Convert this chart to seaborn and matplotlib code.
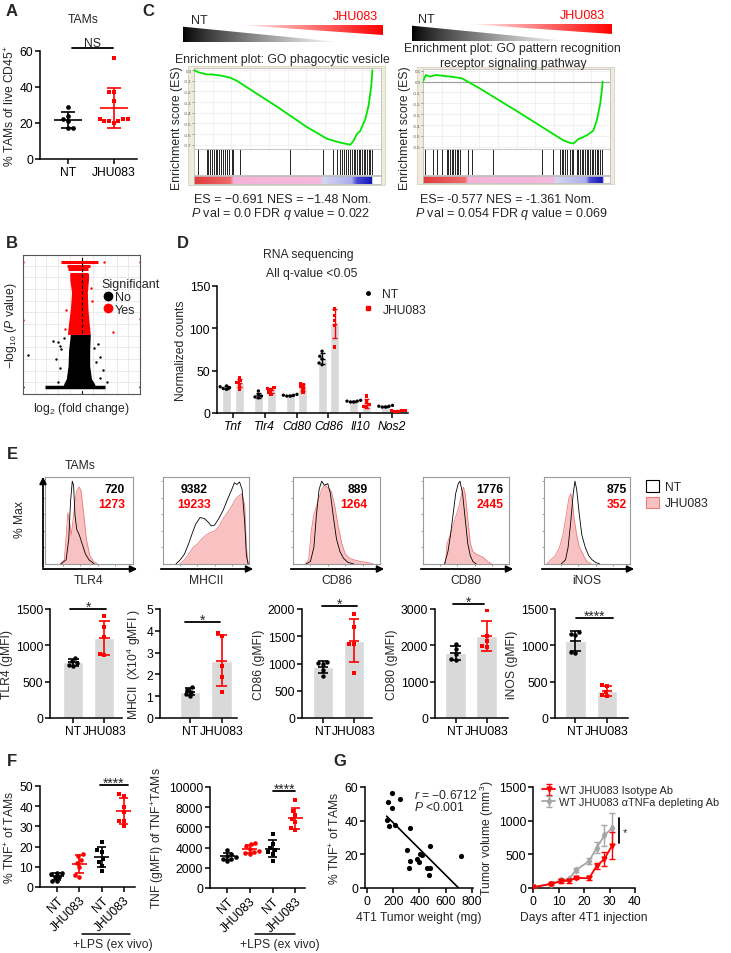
import warnings
import numpy as np
import pandas as pd
import seaborn as sns
import matplotlib.pyplot as plt
from matplotlib.colors import LinearSegmentedColormap
from matplotlib.patches import Polygon, Rectangle, Patch, FancyArrowPatch
from matplotlib.lines import Line2D

warnings.filterwarnings('ignore')

# ---------------- data ----------------
groups = ['NT', 'JHU083']

# A: % TAMs of live CD45+
tam_nt = [29, 24, 22, 21, 17.5, 17.5]
tam_jhu = [56, 37, 37, 32, 22, 21, 22, 21, 20, 21, 22]

# B: volcano plot, cloud outlines
red_y = [5.1, 6.1, 7.3, 8.7, 9.8, 10.3]
red_lo = [-1.2, -1.1, -0.95, -0.85, -1.0, -1.0]
red_hi = [0.75, 0.65, 0.55, 0.5, 0.6, 0.6]
red_row_y = [10.3, 10.7, 11.0, 11.3]
red_row_lo = [-1.0, -1.14, -1.28, -1.71]
red_row_hi = [0.57, 0.57, 0.71, 1.42]
blk_y = [0.6, 0.9, 1.3, 2.4, 3.8, 5.1]
blk_lo = [-1.6, -1.5, -1.3, -1.15, -1.1, -0.95]
blk_hi = [1.2, 1.1, 0.85, 0.7, 0.7, 0.75]
blk_row_y = [0.6]
blk_row_lo = [-3.1]
blk_row_hi = [2.0]
red_out_x = [-5, 5, -5, 5, 2.7, 1.9, -1.3, 0.9, -1.4, 0.8]
red_out_y = [11.3, 11.3, 6.3, 6.4, 5.3, 11.3, 7.2, 8.0, 5.6, 9.1]
blk_out_x = [-2.42, -1.99, -1.85, -1.71, -4.56, 1.85, 1.28, 1.57, -2.2, -1.8,
             1.6, 2.2, -2.0, 1.4, -1.5, 1.1, -5, 5]
blk_out_y = [4.56, 4.41, 4.13, 3.85, 3.33, 2.05, 2.76, 1.35, 3.0, 2.2,
             3.2, 1.0, 1.0, 4.3, 4.8, 3.9, 0.6, 0.6]

# C: GSEA running enrichment scores and hit positions (% of ranked list)
es1_x = [0, 2.3, 6.8, 9.5, 13.9, 19.3, 22.9, 45, 60, 71.1, 78.2, 83.6, 85.4, 87.1, 88.9, 91.6, 93.4, 94.8, 95.4]
es1_y = [0, -0.02, -0.04, -0.04, -0.05, -0.07, -0.1, -0.35, -0.53, -0.644, -0.68, -0.70, -0.66, -0.60, -0.57, -0.46, -0.33, -0.15, 0.0]
hits1 = [2.3, 6.8, 7.7, 8.6, 9.5, 10.7, 11.8, 12.5, 13.6, 14.5, 15.4, 16.6, 17.9, 18.9, 20.2, 21.1, 24.6,
         51.4, 68.9, 74.3, 76.4, 78.2, 79.1, 80.4, 81.4, 82.1, 83.6, 84.5, 85.4, 86.3, 87.1, 88.0, 88.9,
         89.8, 90.7, 91.6, 92.5, 93.4, 94.3, 95.2]
es2_x = [0, 1.5, 3.7, 7, 11.8, 15, 20.7, 30, 50, 75, 78, 80.4, 83, 85.7, 88, 91.1, 92.9, 94.7, 95.5, 96.1]
es2_y = [0, 0.06, 0.045, 0.06, 0.05, 0.045, 0.03, -0.06, -0.27, -0.54, -0.56, -0.57, -0.53, -0.51, -0.49, -0.45, -0.36, -0.21, -0.1, 0.0]
hits2 = [1.1, 5.5, 7.3, 10.0, 12.7, 13.5, 14.4, 15.3, 16.2, 17.1, 18.0, 18.9, 19.8, 24.2, 26.0, 37.6,
         63.5, 69.7, 73.3, 74.2, 75.0, 75.9, 76.8, 78.6, 79.5, 80.4, 82.2, 83.1, 84.0, 84.8, 85.7, 86.6,
         87.5, 88.4, 89.3, 90.2, 91.1, 92.0, 92.9, 93.8, 94.7, 95.5]

# D: RNA sequencing normalized counts
genes = ['Tnf', 'Tlr4', 'Cd80', 'Cd86', 'Il10', 'Nos2']
rna_nt = [[30, 31, 29, 28, 32], [26, 22, 20, 19, 18], [22, 21, 21, 20, 20],
          [73, 67, 64, 59, 57], [15, 14, 14, 13, 13], [9, 8, 8, 7, 7]]
rna_jhu = [[42, 38, 36, 33, 28], [30, 29, 28, 25, 22], [35, 33, 31, 28, 24],
           [123, 115, 109, 103, 78], [20, 14, 10, 8, 7], [3, 3, 2, 2, 3]]

# E: flow histograms (x on 0-100 display scale, height as fraction of max)
hist_names = ['TLR4', 'MHCII', 'CD86', 'CD80', 'iNOS']
hist_nt_x = [
    [18, 24, 27, 29, 31, 32.5, 34, 36, 39, 42, 46, 50, 56],
    [15, 20, 25, 30, 34, 38, 43, 48, 53, 56, 60, 65, 70, 75, 80, 83, 86, 89, 92, 95, 97, 99],
    [15, 20, 24, 27, 30, 33, 36, 40, 43, 46, 50, 54, 58, 63, 70],
    [25, 29, 32, 35, 38, 41, 43, 46, 49, 52, 55, 58, 62],
    [20, 25, 28, 31, 34, 36, 38, 41, 44, 48, 52, 56, 60, 65],
]
hist_nt_y = [
    [0, 0.05, 0.3, 0.75, 1.0, 0.95, 0.6, 0.42, 0.35, 0.25, 0.12, 0.05, 0],
    [0, 0.05, 0.12, 0.25, 0.37, 0.48, 0.56, 0.55, 0.5, 0.46, 0.47, 0.55, 0.65, 0.78, 0.9, 0.98, 0.96, 0.99, 0.9, 0.5, 0.1, 0],
    [0, 0.03, 0.2, 0.6, 0.9, 1.0, 0.95, 0.97, 0.85, 0.6, 0.3, 0.15, 0.07, 0.02, 0],
    [0, 0.15, 0.35, 0.6, 0.85, 0.97, 1.0, 0.85, 0.55, 0.25, 0.1, 0.03, 0],
    [0, 0.05, 0.2, 0.5, 0.85, 1.0, 0.9, 0.6, 0.35, 0.2, 0.1, 0.05, 0.02, 0],
]
hist_jhu_x = [
    [17, 22, 24.5, 26, 28, 30, 32, 34, 36, 39, 41, 44, 47, 51, 55, 60],
    [20, 25, 30, 35, 40, 45, 50, 55, 60, 65, 70, 75, 80, 84, 88, 92, 95, 97, 99],
    [14, 18, 21, 24, 27, 30, 33, 36, 40, 44, 48, 52, 56, 60, 65, 70, 78, 85, 92],
    [26, 28, 30, 33, 36, 39, 42, 45, 47, 49, 52, 55, 58, 62, 66, 70, 75, 80],
    [3, 8, 13, 18, 22, 26, 29, 31, 33, 35, 38, 41, 44, 47, 50, 55],
]
hist_jhu_y = [
    [0, 0.05, 0.4, 0.62, 0.5, 0.35, 0.55, 0.75, 0.88, 0.93, 0.88, 0.6, 0.3, 0.1, 0.03, 0],
    [0, 0.05, 0.12, 0.2, 0.24, 0.3, 0.35, 0.38, 0.4, 0.45, 0.55, 0.62, 0.7, 0.78, 0.82, 0.85, 0.7, 0.2, 0],
    [0, 0.05, 0.4, 0.6, 0.7, 0.8, 0.9, 0.95, 0.92, 0.88, 0.7, 0.45, 0.25, 0.12, 0.07, 0.05, 0.03, 0.02, 0],
    [0, 0.25, 0.3, 0.4, 0.5, 0.6, 0.7, 0.85, 0.93, 0.85, 0.55, 0.25, 0.15, 0.12, 0.1, 0.08, 0.03, 0],
    [0, 0.05, 0.1, 0.2, 0.35, 0.6, 0.8, 0.85, 0.75, 0.55, 0.35, 0.2, 0.15, 0.08, 0.03, 0],
]
mfi_nt = ['720', '9382', '889', '1776', '875']
mfi_jhu = ['1273', '19233', '1264', '2445', '352']

# E: gMFI bar charts
e_nt = [[830, 780, 760, 730, 720], [1.4, 1.3, 1.2, 1.1, 1.0], [1030, 1010, 1000, 880, 770],
        [2040, 1900, 1770, 1620, 1600], [1180, 1160, 1140, 910, 900]]
e_jhu = [[1400, 1250, 1110, 880, 870], [3.9, 3.75, 2.4, 1.9, 1.2], [1900, 1670, 1360, 1350, 830],
         [2970, 2260, 2120, 1980, 1950], [450, 440, 360, 310, 300]]
e_ymax = [1500, 5, 2000, 3000, 1500]
e_ystep = [500, 1, 500, 1000, 500]
e_ylabels = ['TLR4 (gMFI)', 'MHCII  (X10$^{4}$ gMFI )', 'CD86 (gMFI)', 'CD80 (gMFI)', 'iNOS (gMFI)']
e_sig = ['*', '*', '*', '*', '****']

# F: TNF in TAMs
f_cats = ['NT', 'JHU083', 'NT+LPS', 'JHU083+LPS']
f_ticklabels = ['NT', 'JHU083', 'NT', 'JHU083']
f_pct = [[7, 7, 6.5, 5, 5, 3, 3], [16.5, 15.5, 13.5, 12, 10, 6, 5],
         [22.4, 18.5, 17.5, 13.9, 12.5, 10.5, 7.8], [46, 45.2, 39.4, 37, 32.8, 32.8, 30.3]]
f_mfi = [[3800, 3400, 3200, 3050, 2900, 2850, 2700], [4450, 4350, 4200, 3900, 3700, 3600, 3500, 3400],
         [5300, 4400, 4000, 3800, 3600, 3400, 2700], [8700, 7600, 7200, 6800, 6500, 5900, 5700]]

# G: correlation and tumour growth
g_weight = [188, 157, 251, 188, 150, 170, 213, 327, 302, 484, 327, 403, 416, 383, 393, 322, 454, 479, 474, 720]
g_tnf = [56.3, 51.3, 52.9, 47.4, 40.6, 37.0, 37.4, 35.6, 22.8, 24.8, 16.2, 20.2, 19.6, 17.2, 15.6,
         11.9, 11.9, 11.7, 7.9, 19.2]
days = [0, 7, 11, 14, 17, 22, 25, 28, 31]
vol_iso = [10, 60, 100, 110, 150, 145, 330, 430, 630]
vol_iso_sd = [5, 15, 30, 30, 20, 30, 45, 110, 200]
vol_tnf = [10, 65, 115, 130, 270, 400, 600, 780, 890]
vol_tnf_sd = [5, 10, 20, 20, 30, 50, 80, 150, 230]

# ---------------- style ----------------
sns.set_theme(style='ticks')
plt.rcParams['font.family'] = ['Liberation Sans', 'DejaVu Sans']
plt.rcParams['mathtext.fontset'] = 'custom'
plt.rcParams['mathtext.rm'] = 'Liberation Sans'
plt.rcParams['mathtext.it'] = 'Liberation Sans:italic'
plt.rcParams['mathtext.bf'] = 'Liberation Sans:bold'
plt.rcParams['mathtext.sf'] = 'Liberation Sans'

W, H = 731, 954
RED = '#ff0000'
GREY = '#d9d9d9'
PINK = '#f9c2c2'
FS = 8.7

fig = plt.figure(figsize=(W / 100, H / 100), dpi=100)


def px_ax(l, t, r, b):
    return fig.add_axes([l / W, 1 - b / H, (r - l) / W, (b - t) / H])


def ftext(x, y, s, **kw):
    kw.setdefault('va', 'center')
    kw.setdefault('fontsize', FS)
    fig.text(x / W, 1 - y / H, s, **kw)


def arrow(x0, y0, x1, y1):
    fig.add_artist(FancyArrowPatch((x0 / W, 1 - y0 / H), (x1 / W, 1 - y1 / H),
                                   transform=fig.transFigure, arrowstyle='-|>',
                                   mutation_scale=10, lw=1.3, color='black'))


def prism(ax):
    sns.despine(ax=ax)
    for s in ('left', 'bottom'):
        ax.spines[s].set_linewidth(1.1)
        ax.spines[s].set_color('black')
    ax.tick_params(axis='both', length=3.5, width=1.1, labelsize=FS, pad=1.5, colors='black')
    ax.set_xlabel('')
    ax.set_facecolor('none')


def mean_sd(ax, pos, vals, color, half_mean, half_cap, lw=1.2):
    m = np.mean(vals)
    s = np.std(vals, ddof=1)
    ax.hlines(m, pos - half_mean, pos + half_mean, color=color, lw=lw, zorder=5)
    ax.vlines(pos, m - s, m + s, color=color, lw=lw, zorder=5)
    ax.hlines([m - s, m + s], pos - half_cap, pos + half_cap, color=color, lw=lw, zorder=5)


def sig(ax, x0, x1, y, text, fs=10, dy=-1):
    ax.plot([x0, x1], [y, y], color='black', lw=1.3, clip_on=False)
    ax.annotate(text, xy=((x0 + x1) / 2, y), xytext=(0, dy), textcoords='offset points',
                ha='center', va='baseline', fontsize=fs, annotation_clip=False)


# panel letters
for letter, x, y in [('A', 12, 12), ('B', 12, 243), ('C', 148, 11), ('D', 183, 243),
                     ('E', 12, 455), ('F', 12, 762), ('G', 340, 762)]:
    ftext(x, y, letter, fontsize=12, fontweight='bold', ha='center')

# ---------------- A ----------------
ax = px_ax(40, 52, 137, 160)
df_a = pd.DataFrame({'group': ['NT'] * len(tam_nt) + ['JHU083'] * len(tam_jhu),
                     'value': tam_nt + tam_jhu})
sns.swarmplot(data=df_a[df_a.group == 'NT'], x='group', y='value', order=groups,
              color='black', size=3.4, ax=ax)
sns.swarmplot(data=df_a[df_a.group == 'JHU083'], x='group', y='value', order=groups,
              color=RED, marker='s', size=3.4, ax=ax)
mean_sd(ax, 0, tam_nt, 'black', 0.3, 0.15)
mean_sd(ax, 1, tam_jhu, RED, 0.3, 0.15)
ax.set_xlim(-0.6, 1.5)
ax.set_ylim(0, 60)
ax.set_yticks([0, 20, 40, 60])
prism(ax)
ax.set_ylabel('% TAMs of live CD45$^{+}$', fontsize=FS, labelpad=2)
sig(ax, 0.1, 0.98, 61.5, 'NS', fs=FS, dy=1.5)
ftext(83, 20, 'TAMs', ha='center')

# ---------------- B ----------------
ax = px_ax(23, 256, 140, 395)
ax.set_axisbelow(True)
ax.fill_betweenx(blk_y, blk_lo, blk_hi, color='black', lw=0)
ax.hlines(blk_row_y, blk_row_lo, blk_row_hi, color='black', lw=2.5)
ax.fill_betweenx(red_y, red_lo, red_hi, color=RED, lw=0)
ax.hlines(red_row_y, red_row_lo, red_row_hi, color=RED, lw=2.2)
ax.scatter(blk_out_x, blk_out_y, s=3, color='black', lw=0, clip_on=True)
ax.scatter(red_out_x, red_out_y, s=3, color=RED, lw=0, clip_on=True)
ax.axvline(0, ls='--', color='black', lw=0.8, dashes=(3, 2))
ax.set_xlim(-5, 5)
ax.set_ylim(0, 11.9)
ax.set_xticks(np.arange(-5, 6, 1))
ax.set_yticks(np.arange(0, 12, 1))
ax.grid(True, color='#e6e6e6', lw=0.6)
ax.tick_params(length=0, labelbottom=False, labelleft=False)
for s in ax.spines.values():
    s.set_color('#555555')
    s.set_linewidth(0.8)
ax.set_ylabel('\u2212log$_{10}$ ($P$ value)', fontsize=FS, labelpad=3)
ax.set_xlabel('log$_{2}$ (fold change)', fontsize=FS, labelpad=4)
ax.legend(handles=[Line2D([], [], ls='', marker='o', color='black', markersize=6),
                   Line2D([], [], ls='', marker='o', color=RED, markersize=6)],
          labels=['No', 'Yes'], title='Significant', loc='upper left',
          bbox_to_anchor=(95 / W, 1 - 273 / H), bbox_transform=fig.transFigure,
          frameon=False, fontsize=9, title_fontsize=9, handletextpad=0.1,
          labelspacing=0.05, borderpad=0, handlelength=1.0, alignment='left')


# ---------------- C ----------------
def gradient_bar(l, t, r, b):
    gax = px_ax(l, t, r, b)
    gax.set_xlim(0, 1)
    gax.set_ylim(0, 1)
    gax.axis('off')
    g = np.linspace(0, 1, 300)
    img = np.ones((2, 300, 4))
    shade = np.clip(g / 0.78, 0, 1) ** 0.8
    img[..., 0] = shade
    img[..., 1] = shade
    img[..., 2] = shade
    im = gax.imshow(img, extent=(0, 1, 0, 1), aspect='auto', origin='lower')
    im.set_clip_path(Polygon([(0, 0), (0, 0.9), (0.78, 0)], transform=gax.transData))
    img2 = np.zeros((2, 300, 4))
    img2[..., 0] = 1
    img2[..., 3] = np.clip((g - 0.28) / 0.72, 0, 1) ** 0.9
    im2 = gax.imshow(img2, extent=(0, 1, 0, 1), aspect='auto', origin='lower')
    im2.set_clip_path(Polygon([(0.28, 1), (1, 1), (1, 0.42)], transform=gax.transData))


def gsea(l, r, top, es_bot, hits_bot, bar_bot, es_x, es_y, ylim, yticks, hits, stops, zero):
    fig.add_artist(Rectangle(((l - 6) / W, 1 - (bar_bot + 1) / H),
                             (r - l + 10) / W, (bar_bot - top + 3) / H, transform=fig.transFigure,
                             facecolor='#efecdc', edgecolor='#d6d2bd', lw=0.6, zorder=0))
    ax = px_ax(l, top, r, es_bot)
    ax.plot(es_x, es_y, color='#00e600', lw=1.3, zorder=3)
    if zero:
        ax.axhline(0, color='#a0a0a0', lw=0.9, zorder=2)
    ax.set_xlim(0, 100)
    ax.set_ylim(ylim)
    ax.set_yticks(yticks)
    ax.set_yticklabels([f'{v:.1f}' for v in yticks])
    ax.set_xticks(np.arange(0, 101, 10))
    ax.grid(True, color='#ebebeb', lw=0.5)
    ax.tick_params(labelbottom=False, length=1.2, width=0.4, labelsize=3.2, pad=0.5, colors='#555555')
    for s in ax.spines.values():
        s.set_color('#bdbdbd')
        s.set_linewidth(0.6)
    hax = px_ax(l, es_bot, r, hits_bot)
    hax.vlines(hits, 0, 1, color='black', lw=0.6)
    hax.set_xlim(0, 100)
    hax.set_ylim(0, 1)
    hax.set_xticks([])
    hax.set_yticks([])
    for s in hax.spines.values():
        s.set_color('#bdbdbd')
        s.set_linewidth(0.6)
    bax = px_ax(l, hits_bot + 1, r, bar_bot)
    cmap = LinearSegmentedColormap.from_list('gsea', stops)
    bax.imshow(np.linspace(0, 1, 500)[None, :], cmap=cmap, aspect='auto', extent=(0, 100, 0, 1))
    bax.set_xticks([])
    bax.set_yticks([])
    for s in bax.spines.values():
        s.set_color('#bdbdbd')
        s.set_linewidth(0.6)
    return ax


stops1 = [(0, '#e23b3b'), (0.19, '#f06a6a'), (0.21, '#f7b3d9'), (0.67, '#f6b8dc'), (0.69, '#d6d6f3'),
          (0.84, '#acacec'), (0.87, '#4a4ad6'), (0.95, '#1414b4'), (0.952, '#ffffff'), (1, '#ffffff')]
stops2 = [(0, '#e23b3b'), (0.22, '#f06a6a'), (0.24, '#f7b3d9'), (0.69, '#f6b8dc'), (0.71, '#d6d6f3'),
          (0.87, '#acacec'), (0.89, '#4a4ad6'), (0.96, '#1414b4'), (0.962, '#ffffff'), (1, '#ffffff')]

gradient_bar(183, 26, 383, 43)
gradient_bar(412, 25, 612, 42)
ftext(199, 21, 'NT', ha='center', fontsize=9)
ftext(378, 17, 'JHU083', ha='right', fontsize=9, color=RED)
ftext(426, 20, 'NT', ha='center', fontsize=9)
ftext(605, 16, 'JHU083', ha='right', fontsize=9, color=RED)
ftext(282, 60, 'Enrichment plot: GO phagocytic vesicle', ha='center', fontsize=8.8)
ftext(512, 49, 'Enrichment plot: GO pattern recognition', ha='center', fontsize=8.8)
ftext(513, 64, 'receptor signaling pathway', ha='center', fontsize=8.8)
gsea(194, 381, 69, 150, 176, 185, es1_x, es1_y, (-0.74, 0.02), np.round(np.arange(0, -0.71, -0.1), 1),
     hits1, stops1, False)
gsea(423, 610, 70, 150, 176, 184, es2_x, es2_y, (-0.62, 0.115), np.round(np.arange(0.1, -0.61, -0.1), 1),
     hits2, stops2, True)
ftext(177, 128, 'Enrichment score (ES)', ha='center', rotation=90, fontsize=8.8)
ftext(405, 128, 'Enrichment score (ES)', ha='center', rotation=90, fontsize=8.8)
ftext(283, 200, 'ES = \u22120.691 NES = \u22121.48 Nom.', ha='center', fontsize=9)
ftext(281, 214, '$P$ val = 0.0 FDR $q$ value = 0.022', ha='center', fontsize=9)
ftext(507, 200, 'ES= -0.577 NES = -1.361 Nom.', ha='center', fontsize=9)
ftext(512, 214, '$P$ val = 0.054 FDR $q$ value = 0.069', ha='center', fontsize=9)

# ---------------- D ----------------
ax = px_ax(217, 287, 408, 414)
df_d = pd.DataFrame([(g, grp, v) for gi, g in enumerate(genes)
                     for grp, src in (('NT', rna_nt), ('JHU083', rna_jhu)) for v in src[gi]],
                    columns=['gene', 'group', 'count'])
sns.barplot(data=df_d, x='gene', y='count', hue='group', hue_order=groups, order=genes,
            palette=[GREY, GREY], errorbar=None, width=0.8, gap=0.3, legend=False, ax=ax)
sns.swarmplot(data=df_d[df_d.group == 'NT'], x='gene', y='count', hue='group', hue_order=groups,
              order=genes, dodge=True, palette={'NT': 'black', 'JHU083': RED}, size=2.4,
              legend=False, ax=ax)
sns.swarmplot(data=df_d[df_d.group == 'JHU083'], x='gene', y='count', hue='group', hue_order=groups,
              order=genes, dodge=True, palette={'NT': 'black', 'JHU083': RED}, marker='s', size=2.4,
              legend=False, ax=ax)
for i in range(len(genes)):
    mean_sd(ax, i - 0.2, rna_nt[i], 'black', 0.08, 0.08, lw=1.0)
    mean_sd(ax, i + 0.2, rna_jhu[i], RED, 0.08, 0.08, lw=1.0)
ax.set_xlim(-0.5, 5.5)
ax.set_ylim(0, 150)
ax.set_yticks([0, 50, 100, 150])
prism(ax)
ax.set_xticks(range(len(genes)))
ax.set_xticklabels(genes, style='italic')
ax.set_ylabel('Normalized counts', fontsize=FS, labelpad=2)
ax.legend(handles=[Line2D([], [], ls='', marker='o', color='black', markersize=2.5),
                   Line2D([], [], ls='', marker='s', color=RED, markersize=2.5)],
          labels=groups, loc='upper left', bbox_to_anchor=(357 / W, 1 - 283 / H),
          bbox_transform=fig.transFigure, frameon=False, fontsize=FS, handlelength=0.8,
          handletextpad=0.8, labelspacing=0.3, borderpad=0)
ftext(308, 255, 'RNA sequencing', ha='center')
ftext(312, 274, 'All q-value <0.05', ha='center')

# ---------------- E histograms ----------------
hist_boxes = [(45, 133), (163, 249), (293, 380), (423, 509), (544, 630)]
num_pos = [(0.91, 'right'), (0.36, 'center'), (0.86, 'right'), (0.94, 'right'), (0.96, 'right')]
for i, (l, r) in enumerate(hist_boxes):
    hx = px_ax(l, 478, r, 565)
    hx.fill_between(hist_jhu_x[i], 0, hist_jhu_y[i], color=PINK, lw=0)
    hx.plot(hist_jhu_x[i], hist_jhu_y[i], color='#f07a7a', lw=0.6)
    hx.plot(hist_nt_x[i], hist_nt_y[i], color='black', lw=0.6)
    hx.set_xlim(0, 100)
    hx.set_ylim(0, 1.05)
    hx.set_xticks([20, 40, 60, 80])
    hx.set_yticks([0.2, 0.4, 0.6, 0.8, 1.0])
    hx.tick_params(length=1.5, width=0.5, colors='#777777', labelbottom=False, labelleft=False)
    for s in hx.spines.values():
        s.set_color('#9a9a9a')
        s.set_linewidth(0.8)
    fx, ha = num_pos[i]
    hx.text(fx, 0.862, mfi_nt[i], transform=hx.transAxes, ha=ha, va='center',
            fontsize=8.7, fontweight='bold', color='black')
    hx.text(fx, 0.69, mfi_jhu[i], transform=hx.transAxes, ha=ha, va='center',
            fontsize=8.7, fontweight='bold', color=RED)
    arrow(l - 5, 570, r + 7, 570)
    ftext((l + r) / 2, 581, hist_names[i], ha='center')
arrow(43, 571, 43, 475)
ftext(20, 520, '% Max', ha='center', rotation=90)
ftext(80, 466, 'TAMs', ha='center')
fig.legend(handles=[Patch(facecolor='white', edgecolor='black', lw=0.8),
                    Patch(facecolor=PINK, edgecolor='#f07a7a', lw=0.8)],
           labels=groups, loc='upper left', bbox_to_anchor=(646 / W, 1 - 481 / H),
           frameon=False, fontsize=FS, handlelength=1.1, handleheight=1.1,
           handletextpad=0.5, labelspacing=0.3, borderpad=0, borderaxespad=0)

# ---------------- E bars ----------------
e_boxes = [(50, 122), (160, 237), (302, 372), (435, 508), (555, 628)]
e_xlims = [(-0.75, 1.57), (-0.95, 1.49), (-0.68, 1.58), (-0.66, 1.69), (-0.65, 1.67)]
e_brackets = [(-0.1, 1.06, 1500), (-0.16, 0.95, 4.4), (-0.03, 1.1, 2055), (-0.08, 0.92, 3138), (0.02, 1.2, 1376)]
for i, (l, r) in enumerate(e_boxes):
    ax = px_ax(l, 610, r, 719)
    df_e = pd.DataFrame({'group': ['NT'] * len(e_nt[i]) + ['JHU083'] * len(e_jhu[i]),
                         'value': e_nt[i] + e_jhu[i]})
    sns.barplot(data=df_e, x='group', y='value', order=groups, color=GREY, errorbar=None,
                width=0.65, ax=ax)
    sns.swarmplot(data=df_e[df_e.group == 'NT'], x='group', y='value', order=groups,
                  color='black', size=3.2, ax=ax)
    sns.swarmplot(data=df_e[df_e.group == 'JHU083'], x='group', y='value', order=groups,
                  color=RED, marker='s', size=3.2, ax=ax)
    mean_sd(ax, 0, e_nt[i], 'black', 0.17, 0.17)
    mean_sd(ax, 1, e_jhu[i], RED, 0.17, 0.17)
    ax.set_xlim(e_xlims[i])
    ax.set_ylim(0, e_ymax[i])
    ax.set_yticks(np.arange(0, e_ymax[i] + e_ystep[i] / 2, e_ystep[i]))
    prism(ax)
    ax.set_ylabel(e_ylabels[i], fontsize=FS, labelpad=2)
    x0, x1, yb = e_brackets[i]
    sig(ax, x0, x1, yb, e_sig[i], fs=10)

# ---------------- F ----------------
f_boxes = [(40, 787, 135, 888), (210, 788, 305, 889)]
f_xlims = [(-0.76, 3.5), (-0.75, 3.43)]
f_data = [f_pct, f_mfi]
f_ylims = [(0, 50, 10), (0, 10000, 2000)]
f_ylabels = ['% TNF$^{+}$ of TAMs', 'TNF (gMFI) of TNF$^{+}$TAMs']
f_brackets = [(1.93, 3.18, 50.5), (2.03, 3.0, 9604)]
f_colors = ['black', RED, 'black', RED]
f_markers = ['o', 'o', 's', 's']
lps_lines = [(82, 130, 113), (255, 295, 280)]
for k in range(2):
    ax = px_ax(*f_boxes[k])
    vals = f_data[k]
    df_f = pd.DataFrame([(f_cats[j], v) for j in range(4) for v in vals[j]], columns=['cat', 'value'])
    for j in range(4):
        sns.swarmplot(data=df_f[df_f.cat == f_cats[j]], x='cat', y='value', order=f_cats,
                      color=f_colors[j], marker=f_markers[j], size=3.3, ax=ax)
        mean_sd(ax, j, vals[j], f_colors[j], 0.33, 0.2)
    ax.set_xlim(f_xlims[k])
    lo, hi, step = f_ylims[k]
    ax.set_ylim(lo, hi)
    ax.set_yticks(np.arange(lo, hi + step / 2, step))
    prism(ax)
    ax.set_xticks(range(4))
    ax.set_xticklabels(f_ticklabels, rotation=45, ha='right', rotation_mode='anchor')
    ax.set_ylabel(f_ylabels[k], fontsize=FS, labelpad=2)
    x0, x1, yb = f_brackets[k]
    sig(ax, x0, x1, yb, '****', fs=10)
    a, b, c = lps_lines[k]
    fig.add_artist(Line2D([a / W, b / W], [1 - 935 / H, 1 - 935 / H], color='black', lw=1.1))
    ftext(c, 945, '+LPS (ex vivo)', ha='center')

# ---------------- G ----------------
ax = px_ax(365, 788, 473, 889)
sns.scatterplot(x=g_weight, y=g_tnf, color='black', s=14, linewidth=0, ax=ax)
sns.regplot(x=g_weight, y=g_tnf, scatter=False, ci=None, truncate=True,
            line_kws=dict(color='black', lw=1.2), ax=ax)
ax.set_xlim(-15, 808)
ax.set_ylim(0, 60)
ax.set_xticks([0, 200, 400, 600, 800])
ax.set_yticks([0, 20, 40, 60])
prism(ax)
ax.set_xlabel('4T1 Tumor weight (mg)', fontsize=FS, labelpad=3)
ax.set_ylabel('% TNF$^{+}$ of TAMs', fontsize=FS, labelpad=2)
ax.text(0.45, 0.93, '$r$ = \u22120.6712', transform=ax.transAxes, fontsize=FS, va='center')
ax.text(0.45, 0.81, '$P$ <0.001', transform=ax.transAxes, fontsize=FS, va='center')

ax = px_ax(533, 788, 635, 889)
ax.errorbar(days, vol_iso, yerr=vol_iso_sd, color=RED, marker='v', ms=3.5, lw=1.3,
            elinewidth=1.0, capsize=2.5, label='WT JHU083 Isotype Ab', zorder=4)
ax.errorbar(days, vol_tnf, yerr=vol_tnf_sd, color='#a6a6a6', marker='d', ms=3.5, lw=1.3,
            elinewidth=1.0, capsize=2.5, label='WT JHU083 \u03b1TNFa depleting Ab', zorder=3)
ax.set_xlim(0, 40)
ax.set_ylim(0, 1500)
ax.set_xticks([0, 10, 20, 30, 40])
ax.set_yticks([0, 500, 1000, 1500])
prism(ax)
ax.set_xlabel('Days after 4T1 injection', fontsize=FS, labelpad=3)
ax.set_ylabel('Tumor volume (mm$^{3}$)', fontsize=FS, labelpad=2)
ax.plot([33.7, 33.7], [668, 1040], color='black', lw=1.3)
ax.text(35.3, 830, '*', fontsize=8, va='center')
h, lab = ax.get_legend_handles_labels()
ax.legend(h, lab, loc='upper left', bbox_to_anchor=(542 / W, 1 - 786 / H),
          bbox_transform=fig.transFigure, frameon=False, fontsize=7.9, handlelength=1.2,
          handletextpad=0.35, labelspacing=0.2, borderpad=0, borderaxespad=0)

fig.savefig('out.png', dpi=100)
